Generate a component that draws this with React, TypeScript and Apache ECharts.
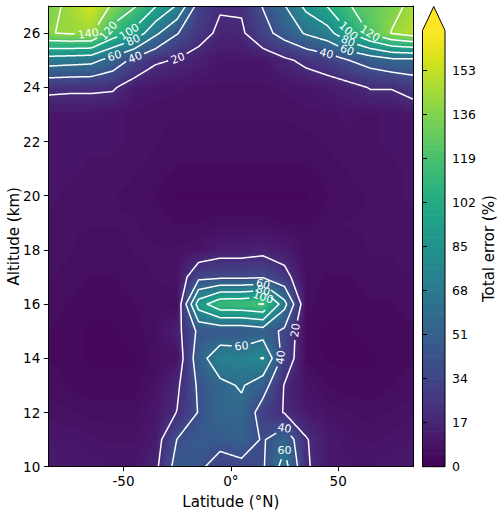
import React, { useEffect, useRef } from "react";
import * as echarts from "echarts";

// ---------------- data ----------------
const LATITUDES = [-85, -75, -65, -55, -45, -35, -25, -15, -5, 5, 15, 25, 35, 45, 55, 65, 75, 85];
const ALTITUDES = [10, 11, 12, 13, 14, 15, 16, 17, 18, 19, 20, 21, 22, 23, 24, 25, 26, 27];

// total error (%) at each altitude level, one value per latitude above
const ERR_10KM = [12, 12, 11, 10, 10, 16, 48, 44, 31, 35, 38, 68, 22, 12, 10, 10, 11, 12];
const ERR_11KM = [10, 10, 9, 8, 8, 12, 40.5, 48, 47, 51, 38, 55, 21, 12, 9, 8, 9, 10];
const ERR_12KM = [8, 7, 6, 6, 6, 10, 20.5, 41, 55, 55, 31, 19, 12, 8, 7, 6, 7, 8];
const ERR_13KM = [6, 5, 4, 4, 4, 8, 17, 43, 55, 62, 48, 19, 8, 5, 4, 4, 5, 6];
const ERR_14KM = [5, 4, 3, 3, 3, 6, 8, 51, 74, 72, 81, 32, 5, 3, 3, 3, 4, 5];
const ERR_15KM = [5, 4, 3, 3, 4, 7, 14, 44, 45, 45, 50, 36, 4, 3, 3, 4, 4, 5];
const ERR_16KM = [6, 5, 4, 4, 5, 6, 5, 90, 115, 116, 121, 66, 6, 4, 4, 5, 5, 6];
const ERR_17KM = [7, 6, 5, 5, 6, 7, 8, 34, 36, 36, 38, 26, 6, 5, 5, 6, 6, 7];
const ERR_18KM = [8, 7, 6, 6, 7, 7, 7, 8, 13, 13, 15, 12, 6, 6, 6, 7, 7, 8];
const ERR_19KM = [8, 7, 7, 7, 7, 6, 5, 5, 6, 6, 6, 5, 5, 6, 7, 7, 7, 8];
const ERR_20KM = [9, 8, 8, 7, 6, 5, 3, 3, 3, 3, 3, 3, 3, 5, 6, 7, 8, 9];
const ERR_21KM = [9, 9, 8, 8, 7, 6, 5, 5, 5, 5, 5, 5, 5, 6, 7, 8, 8, 9];
const ERR_22KM = [10, 10, 9, 9, 8, 7, 6, 6, 6, 6, 6, 6, 6, 7, 8, 8, 9, 10];
const ERR_23KM = [10, 10, 10, 9, 8, 7, 7, 7, 7, 7, 7, 7, 8, 8, 9, 8, 9, 10];
const ERR_24KM = [24, 23, 23, 22, 12, 10, 9, 8, 8, 8, 8, 9, 10, 12, 15, 21, 21, 28];
const ERR_25KM = [70, 68, 66, 52, 35, 22, 19, 14, 10, 10, 10, 17, 24, 30, 40, 48, 55, 55];
const ERR_26KM = [139, 142, 142, 112, 95, 64, 41, 26, 17, 17.5, 33, 48, 62, 72, 99, 122, 141, 150];
const ERR_27KM = [134, 144, 158, 137, 122, 101, 78, 32, 21.5, 22, 41, 59, 85, 101, 119, 128, 134, 145];

const GRID = [
  ERR_10KM, ERR_11KM, ERR_12KM, ERR_13KM, ERR_14KM, ERR_15KM, ERR_16KM, ERR_17KM, ERR_18KM,
  ERR_19KM, ERR_20KM, ERR_21KM, ERR_22KM, ERR_23KM, ERR_24KM, ERR_25KM, ERR_26KM, ERR_27KM,
];

const CONTOUR_LEVELS = [20, 40, 60, 80, 100, 120, 140, 160];
const FILL_STEP = 1.7;
const COLOR_MAX = 168.3;
const COLORBAR_TICKS = [0, 17, 34, 51, 68, 85, 102, 119, 136, 153];
const LAT_TICKS = [-50, 0, 50];
const ALT_TICKS = [10, 12, 14, 16, 18, 20, 22, 24, 26];

// where the inline contour labels sit (anchor near the line: level, lat, alt)
const CONTOUR_LABELS = [
  { level: 140, lat: -66.5, alt: 25.9 },
  { level: 120, lat: -57.2, alt: 26.1 },
  { level: 100, lat: -47.9, alt: 26.1 },
  { level: 80, lat: -45.6, alt: 25.8 },
  { level: 60, lat: -54.9, alt: 25.3 },
  { level: 40, lat: -45.1, alt: 25.2 },
  { level: 20, lat: -25.4, alt: 25.2 },
  { level: 100, lat: 54.8, alt: 26.1 },
  { level: 120, lat: 64.8, alt: 26.0 },
  { level: 80, lat: 55.2, alt: 25.8 },
  { level: 60, lat: 54.8, alt: 25.45 },
  { level: 40, lat: 44.7, alt: 25.25 },
  { level: 60, lat: 15.1, alt: 16.77 },
  { level: 80, lat: 15.1, alt: 16.52 },
  { level: 100, lat: 15.1, alt: 16.27 },
  { level: 20, lat: 29.1, alt: 15.04 },
  { level: 60, lat: 5, alt: 14.37 },
  { level: 40, lat: 24.5, alt: 14.06 },
  { level: 40, lat: 24.6, alt: 11.54 },
  { level: 60, lat: 24.6, alt: 11.05 },
];

// ---------------- colour ----------------
const VIRIDIS: number[][] = [
  [68, 1, 84], [72, 24, 106], [71, 45, 123], [66, 64, 134], [59, 82, 139], [51, 99, 141],
  [44, 114, 142], [38, 130, 142], [33, 145, 140], [31, 160, 136], [40, 174, 128], [63, 188, 115],
  [94, 201, 98], [132, 212, 75], [173, 220, 48], [216, 226, 25], [253, 231, 37],
];
function viridis(t: number): string {
  const tt = Math.max(0, Math.min(1, t));
  const x = tt * 16;
  const k = Math.min(15, Math.floor(x));
  const f = x - k;
  const a = VIRIDIS[k];
  const b = VIRIDIS[k + 1];
  const c = [0, 1, 2].map((i) => Math.round(a[i] + (b[i] - a[i]) * f));
  return `rgb(${c[0]},${c[1]},${c[2]})`;
}
const NBANDS = Math.round(COLOR_MAX / FILL_STEP);
const bandCache: Record<number, string> = {};
function bandColor(k: number): string {
  if (bandCache[k] === undefined) {
    bandCache[k] = k >= NBANDS ? viridis(1) : viridis(((k + 0.5) * FILL_STEP) / COLOR_MAX);
  }
  return bandCache[k];
}
function fillColor(v: number): string {
  const k = v >= COLOR_MAX ? NBANDS : Math.max(0, Math.floor(v / FILL_STEP));
  return bandColor(k);
}

// ---------------- contouring (marching squares on the grid) ----------------
type P = [number, number];
function contourPaths(level: number): P[][] {
  const nx = LATITUDES.length;
  const ny = ALTITUDES.length;
  const val = (i: number, j: number) => GRID[j][i];
  const pt = (key: string): P => {
    const [kind, si, sj] = key.split(":");
    const i = +si;
    const j = +sj;
    if (kind === "h") {
      const a = val(i, j);
      const b = val(i + 1, j);
      const t = (level - a) / (b - a);
      return [LATITUDES[i] + t * (LATITUDES[i + 1] - LATITUDES[i]), ALTITUDES[j]];
    }
    const a = val(i, j);
    const b = val(i, j + 1);
    const t = (level - a) / (b - a);
    return [LATITUDES[i], ALTITUDES[j] + t * (ALTITUDES[j + 1] - ALTITUDES[j])];
  };
  const segs: [string, string][] = [];
  for (let j = 0; j < ny - 1; j++) {
    for (let i = 0; i < nx - 1; i++) {
      const a = val(i, j);
      const b = val(i + 1, j);
      const c = val(i + 1, j + 1);
      const d = val(i, j + 1);
      const code = (a >= level ? 1 : 0) | (b >= level ? 2 : 0) | (c >= level ? 4 : 0) | (d >= level ? 8 : 0);
      const B = `h:${i}:${j}`;
      const R = `v:${i + 1}:${j}`;
      const T = `h:${i}:${j + 1}`;
      const L = `v:${i}:${j}`;
      const center = (a + b + c + d) / 4 >= level;
      switch (code) {
        case 1: case 14: segs.push([L, B]); break;
        case 2: case 13: segs.push([B, R]); break;
        case 3: case 12: segs.push([L, R]); break;
        case 4: case 11: segs.push([R, T]); break;
        case 6: case 9: segs.push([B, T]); break;
        case 7: case 8: segs.push([L, T]); break;
        case 5:
          if (center) { segs.push([B, R]); segs.push([L, T]); } else { segs.push([L, B]); segs.push([R, T]); }
          break;
        case 10:
          if (center) { segs.push([L, B]); segs.push([R, T]); } else { segs.push([B, R]); segs.push([L, T]); }
          break;
        default: break;
      }
    }
  }
  const byKey = new Map<string, number[]>();
  segs.forEach((s, k) => s.forEach((e) => {
    const arr = byKey.get(e);
    if (arr) arr.push(k); else byKey.set(e, [k]);
  }));
  const used = segs.map(() => false);
  const chains: string[][] = [];
  const walk = (k0: number, startKey: string) => {
    const chain = [startKey];
    let k = k0;
    let key = startKey;
    while (k >= 0) {
      used[k] = true;
      const s = segs[k];
      const next = s[0] === key ? s[1] : s[0];
      chain.push(next);
      key = next;
      const nk = (byKey.get(next) || []).find((m) => !used[m]);
      k = nk === undefined ? -1 : nk;
    }
    chains.push(chain);
  };
  segs.forEach((s, k) => {
    if (used[k]) return;
    const end = s.find((e) => (byKey.get(e) || []).length === 1);
    if (end) walk(k, end);
  });
  segs.forEach((s, k) => { if (!used[k]) walk(k, s[0]); });
  return chains.map((ch) => ch.map(pt));
}
const CONTOURS = CONTOUR_LEVELS.map((level) => ({ level, paths: contourPaths(level) }));

function resample(points: number[][]): number[][] {
  const out: number[][] = [];
  if (!points.length) return out;
  out.push(points[0]);
  for (let k = 1; k < points.length; k++) {
    const a = points[k - 1];
    const b = points[k];
    const len = Math.hypot(b[0] - a[0], b[1] - a[1]);
    const n = Math.max(1, Math.ceil(len));
    for (let s = 1; s <= n; s++) out.push([a[0] + ((b[0] - a[0]) * s) / n, a[1] + ((b[1] - a[1]) * s) / n]);
  }
  return out;
}

const LABEL_FONT = 11;
const SUB = 10;

const CELLS: number[][] = [];
for (let j = 0; j < ALTITUDES.length - 1; j++) {
  for (let i = 0; i < LATITUDES.length - 1; i++) CELLS.push([i, j]);
}
const BANDS: number[][] = [];
for (let k = 0; k < NBANDS; k++) BANDS.push([k]);

function buildOption(): any {
  const black = "#000";
  return {
    animation: false,
    textStyle: { fontFamily: "DejaVu Sans" },
    grid: [
      { left: 48.3, top: 6, width: 365, height: 460.7, containLabel: false, outerBoundsMode: "none" },
      { left: 422.5, top: 30.5, width: 22.5, height: 436.2, containLabel: false, outerBoundsMode: "none" },
    ],
    xAxis: [
      {
        type: "value", gridIndex: 0, min: -85, max: 85, z: 10,
        axisLine: { show: true, onZero: false, lineStyle: { color: black, width: 1 } },
        axisTick: { show: true, length: 4.5, customValues: LAT_TICKS, lineStyle: { color: black } },
        axisLabel: {
          customValues: LAT_TICKS, color: black, fontSize: 13.5, margin: 7,
          formatter: (v: number) => (v === 0 ? "0°" : String(v)),
        },
        splitLine: { show: false },
        name: "Latitude (°N)", nameLocation: "middle", nameGap: 27.5, nameMoveOverlap: false,
        nameTextStyle: { fontSize: 15, color: black },
      },
      {
        type: "value", gridIndex: 0, position: "top", min: -85, max: 85, z: 10,
        axisLine: { show: true, onZero: false, lineStyle: { color: black, width: 1 } },
        axisTick: { show: false }, axisLabel: { show: false }, splitLine: { show: false },
      },
      { type: "value", gridIndex: 1, min: 0, max: 1, show: false },
    ],
    yAxis: [
      {
        type: "value", gridIndex: 0, min: 10, max: 27, z: 10,
        axisLine: { show: true, onZero: false, lineStyle: { color: black, width: 1 } },
        axisTick: { show: true, length: 4.5, customValues: ALT_TICKS, lineStyle: { color: black } },
        axisLabel: { customValues: ALT_TICKS, color: black, fontSize: 13.5, margin: 8 },
        splitLine: { show: false },
        name: "Altitude (km)", nameLocation: "middle", nameGap: 27, nameMoveOverlap: false,
        nameTextStyle: { fontSize: 15, color: black },
      },
      {
        type: "value", gridIndex: 0, position: "right", min: 10, max: 27, z: 10,
        axisLine: { show: true, onZero: false, lineStyle: { color: black, width: 1 } },
        axisTick: { show: false }, axisLabel: { show: false }, splitLine: { show: false },
      },
      {
        type: "value", gridIndex: 1, position: "right", min: 0, max: COLOR_MAX, z: 10,
        axisLine: { show: false },
        axisTick: { show: true, length: 4.5, customValues: COLORBAR_TICKS, lineStyle: { color: black } },
        axisLabel: { customValues: COLORBAR_TICKS, color: black, fontSize: 12.5, margin: 7 },
        splitLine: { show: false },
        name: "Total error (%)", nameLocation: "middle", nameGap: 36.5, nameRotate: 90, nameMoveOverlap: false,
        nameTextStyle: { fontSize: 15, color: black },
      },
    ],
    series: [
      {
        type: "custom", xAxisIndex: 0, yAxisIndex: 0, z: 2, silent: true,
        data: CELLS,
        renderItem: (_p: any, api: any) => {
          const i = api.value(0);
          const j = api.value(1);
          const pA = api.coord([LATITUDES[i], ALTITUDES[j]]);
          const pB = api.coord([LATITUDES[i + 1], ALTITUDES[j + 1]]);
          const v00 = GRID[j][i];
          const v10 = GRID[j][i + 1];
          const v01 = GRID[j + 1][i];
          const v11 = GRID[j + 1][i + 1];
          const xs: number[] = [];
          const ys: number[] = [];
          for (let s = 0; s <= SUB; s++) {
            xs.push(Math.round(pA[0] + ((pB[0] - pA[0]) * s) / SUB));
            ys.push(Math.round(pA[1] + ((pB[1] - pA[1]) * s) / SUB));
          }
          const children: any[] = [];
          for (let r = 0; r < SUB; r++) {
            const fy = (r + 0.5) / SUB;
            const yTop = ys[r + 1];
            const h = ys[r] - ys[r + 1];
            if (h <= 0) continue;
            let start = 0;
            let cur = "";
            for (let c = 0; c <= SUB; c++) {
              let col = "";
              if (c < SUB) {
                const fx = (c + 0.5) / SUB;
                const v = v00 * (1 - fx) * (1 - fy) + v10 * fx * (1 - fy) + v01 * (1 - fx) * fy + v11 * fx * fy;
                col = fillColor(v);
              }
              if (c === 0) { cur = col; continue; }
              if (col !== cur) {
                const w = xs[c] - xs[start];
                if (w > 0) {
                  children.push({
                    type: "rect",
                    shape: { x: xs[start], y: yTop, width: w, height: h },
                    style: { fill: cur },
                  });
                }
                start = c;
                cur = col;
              }
            }
          }
          return { type: "group", children };
        },
      },
      {
        type: "custom", xAxisIndex: 0, yAxisIndex: 0, z: 5, silent: true,
        data: [[0]],
        renderItem: (_p: any, api: any) => {
          const children: any[] = [];
          const pix = CONTOURS.map((c) => ({
            level: c.level,
            paths: c.paths.map((path) => resample(path.map((q) => api.coord(q)))),
          }));
          const placed: any[] = [];
          CONTOUR_LABELS.forEach((lb) => {
            const set = pix.find((c) => c.level === lb.level);
            if (!set) return;
            const target = api.coord([lb.lat, lb.alt]);
            let bd = Infinity;
            let bp = -1;
            let bk = -1;
            set.paths.forEach((path, pi) => path.forEach((p, k) => {
              const d = (p[0] - target[0]) ** 2 + (p[1] - target[1]) ** 2;
              if (d < bd) { bd = d; bp = pi; bk = k; }
            }));
            if (bp < 0 || bd > 30 * 30) return;
            const path = set.paths[bp];
            const a = path[Math.max(0, bk - 6)];
            const b = path[Math.min(path.length - 1, bk + 6)];
            let ang = Math.atan2(-(b[1] - a[1]), b[0] - a[0]);
            if (ang > Math.PI / 2) ang -= Math.PI;
            if (ang < -Math.PI / 2) ang += Math.PI;
            const text = String(lb.level);
            const half = (text.length * 0.636 * LABEL_FONT) / 2 + 2.5;
            placed.push({ level: lb.level, x: path[bk][0], y: path[bk][1], ang, text, half });
          });
          pix.forEach((c) => c.paths.forEach((path) => {
            const gaps = placed.filter((g) => g.level === c.level);
            let run: number[][] = [];
            const flush = () => {
              if (run.length > 1) {
                children.push({
                  type: "polyline",
                  shape: { points: run },
                  style: { stroke: "#fff", lineWidth: 1.5, fill: "none", lineJoin: "round" },
                });
              }
              run = [];
            };
            path.forEach((p) => {
              const inGap = gaps.some((g) => (p[0] - g.x) ** 2 + (p[1] - g.y) ** 2 < g.half * g.half);
              if (inGap) flush(); else run.push(p);
            });
            flush();
          }));
          placed.forEach((p) => children.push({
            type: "text", x: p.x, y: p.y, rotation: p.ang,
            style: {
              text: p.text, fill: "#fff", font: `${LABEL_FONT}px "DejaVu Sans"`,
              align: "center", verticalAlign: "middle",
            },
          }));
          return { type: "group", children };
        },
      },
      {
        type: "custom", xAxisIndex: 2, yAxisIndex: 2, z: 2, silent: true,
        data: BANDS,
        renderItem: (_p: any, api: any) => {
          const k = api.value(0);
          const p0 = api.coord([0, k * FILL_STEP]);
          const p1 = api.coord([1, Math.min(COLOR_MAX, (k + 1) * FILL_STEP)]);
          return {
            type: "rect",
            shape: { x: p0[0], y: p1[1] - 0.3, width: p1[0] - p0[0], height: p0[1] - p1[1] + 0.6 },
            style: { fill: bandColor(k) },
          };
        },
      },
      {
        type: "custom", xAxisIndex: 2, yAxisIndex: 2, z: 4, silent: true,
        data: [[0]],
        renderItem: (_p: any, api: any) => {
          const bl = api.coord([0, 0]);
          const tr = api.coord([1, COLOR_MAX]);
          const len = bl[1] - tr[1];
          const tipY = tr[1] - 0.055 * len;
          const midX = (bl[0] + tr[0]) / 2;
          return {
            type: "group",
            children: [
              {
                type: "polygon",
                shape: { points: [[bl[0], tr[1]], [midX, tipY], [tr[0], tr[1]]] },
                style: { fill: bandColor(NBANDS) },
              },
              {
                type: "polygon",
                shape: { points: [[bl[0], bl[1]], [bl[0], tr[1]], [midX, tipY], [tr[0], tr[1]], [tr[0], bl[1]]] },
                style: { fill: "none", stroke: "#000", lineWidth: 1 },
              },
            ],
          };
        },
      },
    ],
  };
}

export default function App() {
  const ref = useRef<HTMLDivElement>(null);
  useEffect(() => {
    document.body.style.margin = "0";
    if (!ref.current) return undefined;
    const chart = echarts.init(ref.current, undefined, { renderer: "svg" });
    chart.setOption(buildOption());
    return () => chart.dispose();
  }, []);
  return <div ref={ref} style={{ width: 500, height: 514 }} />;
}
